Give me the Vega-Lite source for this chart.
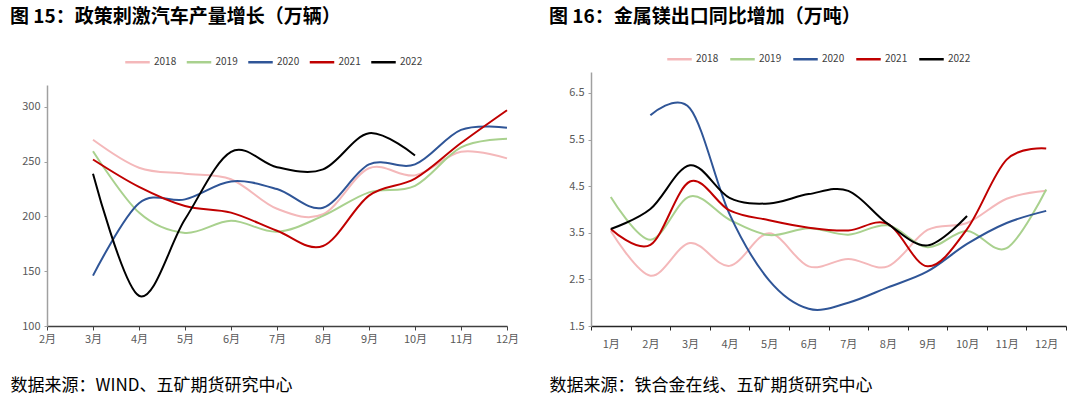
{
  "$schema": "https://vega.github.io/schema/vega-lite/v6.json",
  "background": "white",
  "padding": {"left": 10, "top": 7, "right": 2, "bottom": 3},
  "bounds": "flush",
  "spacing": 84,
  "config": {
    "font": "Noto Sans CJK SC",
    "view": {"stroke": null},
    "axis": {"labelFont": "Noto Sans CJK SC", "labelFontSize": 11, "labelColor": "#595959", "grid": false, "titleFont": "Noto Sans CJK SC"},
    "legend": {"labelFont": "Noto Sans CJK SC", "labelFontSize": 10, "labelColor": "#404040", "symbolType": "stroke", "symbolSize": 600, "symbolStrokeWidth": 2.5, "labelOffset": 3, "title": null},
    "title": {"font": "Noto Sans CJK SC", "fontSize": 19, "fontWeight": "bold", "color": "#000000", "anchor": "start", "frame": "group"}
  },
  "resolve": {"scale": {"x": "independent", "y": "independent", "color": "independent"}, "legend": {"color": "independent"}},
  "datasets": {
    "car": [
      {"m": "3月", "year": "2018", "v": 270}, {"m": "4月", "year": "2018", "v": 244.5}, {"m": "5月", "year": "2018", "v": 239}, {"m": "6月", "year": "2018", "v": 234}, {"m": "7月", "year": "2018", "v": 207}, {"m": "8月", "year": "2018", "v": 202}, {"m": "9月", "year": "2018", "v": 244}, {"m": "10月", "year": "2018", "v": 237.5}, {"m": "11月", "year": "2018", "v": 259}, {"m": "12月", "year": "2018", "v": 253},
      {"m": "3月", "year": "2019", "v": 259.6}, {"m": "4月", "year": "2019", "v": 203.5}, {"m": "5月", "year": "2019", "v": 185}, {"m": "6月", "year": "2019", "v": 196}, {"m": "7月", "year": "2019", "v": 186}, {"m": "8月", "year": "2019", "v": 200.5}, {"m": "9月", "year": "2019", "v": 222}, {"m": "10月", "year": "2019", "v": 228}, {"m": "11月", "year": "2019", "v": 263}, {"m": "12月", "year": "2019", "v": 271},
      {"m": "3月", "year": "2020", "v": 146}, {"m": "4月", "year": "2020", "v": 212}, {"m": "5月", "year": "2020", "v": 215.6}, {"m": "6月", "year": "2020", "v": 232}, {"m": "7月", "year": "2020", "v": 225}, {"m": "8月", "year": "2020", "v": 208}, {"m": "9月", "year": "2020", "v": 247.5}, {"m": "10月", "year": "2020", "v": 247.5}, {"m": "11月", "year": "2020", "v": 279}, {"m": "12月", "year": "2020", "v": 281},
      {"m": "3月", "year": "2021", "v": 252}, {"m": "4月", "year": "2021", "v": 227}, {"m": "5月", "year": "2021", "v": 209.5}, {"m": "6月", "year": "2021", "v": 203.5}, {"m": "7月", "year": "2021", "v": 187}, {"m": "8月", "year": "2021", "v": 173}, {"m": "9月", "year": "2021", "v": 219}, {"m": "10月", "year": "2021", "v": 234.5}, {"m": "11月", "year": "2021", "v": 267}, {"m": "12月", "year": "2021", "v": 297},
      {"m": "3月", "year": "2022", "v": 239}, {"m": "4月", "year": "2022", "v": 127.6}, {"m": "5月", "year": "2022", "v": 197.4}, {"m": "6月", "year": "2022", "v": 259}, {"m": "7月", "year": "2022", "v": 245}, {"m": "8月", "year": "2022", "v": 243}, {"m": "9月", "year": "2022", "v": 276}, {"m": "10月", "year": "2022", "v": 255.7}
    ],
    "mg": [
      {"m": "1月", "year": "2018", "v": 3.54}, {"m": "2月", "year": "2018", "v": 2.58}, {"m": "3月", "year": "2018", "v": 3.28}, {"m": "4月", "year": "2018", "v": 2.79}, {"m": "5月", "year": "2018", "v": 3.49}, {"m": "6月", "year": "2018", "v": 2.78}, {"m": "7月", "year": "2018", "v": 2.94}, {"m": "8月", "year": "2018", "v": 2.78}, {"m": "9月", "year": "2018", "v": 3.56}, {"m": "10月", "year": "2018", "v": 3.71}, {"m": "11月", "year": "2018", "v": 4.23}, {"m": "12月", "year": "2018", "v": 4.4},
      {"m": "1月", "year": "2019", "v": 4.27}, {"m": "2月", "year": "2019", "v": 3.35}, {"m": "3月", "year": "2019", "v": 4.28}, {"m": "4月", "year": "2019", "v": 3.78}, {"m": "5月", "year": "2019", "v": 3.45}, {"m": "6月", "year": "2019", "v": 3.6}, {"m": "7月", "year": "2019", "v": 3.46}, {"m": "8月", "year": "2019", "v": 3.66}, {"m": "9月", "year": "2019", "v": 3.19}, {"m": "10月", "year": "2019", "v": 3.54}, {"m": "11月", "year": "2019", "v": 3.17}, {"m": "12月", "year": "2019", "v": 4.43},
      {"m": "2月", "year": "2020", "v": 6.02}, {"m": "3月", "year": "2020", "v": 6.17}, {"m": "4月", "year": "2020", "v": 3.9}, {"m": "5月", "year": "2020", "v": 2.48}, {"m": "6月", "year": "2020", "v": 1.87}, {"m": "7月", "year": "2020", "v": 2.0}, {"m": "8月", "year": "2020", "v": 2.33}, {"m": "9月", "year": "2020", "v": 2.67}, {"m": "10月", "year": "2020", "v": 3.26}, {"m": "11月", "year": "2020", "v": 3.71}, {"m": "12月", "year": "2020", "v": 3.97},
      {"m": "1月", "year": "2021", "v": 3.58}, {"m": "2月", "year": "2021", "v": 3.24}, {"m": "3月", "year": "2021", "v": 4.6}, {"m": "4月", "year": "2021", "v": 3.98}, {"m": "5月", "year": "2021", "v": 3.77}, {"m": "6月", "year": "2021", "v": 3.61}, {"m": "7月", "year": "2021", "v": 3.55}, {"m": "8月", "year": "2021", "v": 3.69}, {"m": "9月", "year": "2021", "v": 2.78}, {"m": "10月", "year": "2021", "v": 3.58}, {"m": "11月", "year": "2021", "v": 5.07}, {"m": "12月", "year": "2021", "v": 5.31},
      {"m": "1月", "year": "2022", "v": 3.58}, {"m": "2月", "year": "2022", "v": 4.01}, {"m": "3月", "year": "2022", "v": 4.95}, {"m": "4月", "year": "2022", "v": 4.25}, {"m": "5月", "year": "2022", "v": 4.13}, {"m": "6月", "year": "2022", "v": 4.33}, {"m": "7月", "year": "2022", "v": 4.4}, {"m": "8月", "year": "2022", "v": 3.69}, {"m": "9月", "year": "2022", "v": 3.23}, {"m": "10月", "year": "2022", "v": 3.86}
    ]
  },
  "hconcat": [
    {
      "title": {"text": "图 15：政策刺激汽车产量增长（万辆）", "dx": -37, "offset": 22},
      "width": 460,
      "height": 254,
      "data": {"name": "car"},
      "mark": {"type": "line", "interpolate": "cardinal", "strokeWidth": 2},
      "encoding": {
        "x": {"field": "m", "type": "ordinal", "sort": null,
          "scale": {"type": "point", "padding": 0, "domain": ["2月", "3月", "4月", "5月", "6月", "7月", "8月", "9月", "10月", "11月", "12月"]},
          "axis": {"labelAngle": 0, "domainColor": "#404040", "domainWidth": 1.5, "tickColor": "#404040", "tickSize": 4, "labelPadding": 3,
            "title": "数据来源：WIND、五矿期货研究中心", "titleFontSize": 17, "titleFontWeight": "normal", "titleColor": "#000000", "titleAnchor": "start", "titleAlign": "left", "titleBaseline": "middle", "titleX": -37, "titleY": 59}},
        "y": {"field": "v", "type": "quantitative",
          "scale": {"domain": [100, 320], "range": [254, 13], "nice": false, "zero": false},
          "axis": {"values": [100, 150, 200, 250, 300], "title": null, "domainColor": "#a0a0a0", "domainWidth": 1.5, "tickColor": "#a0a0a0", "tickSize": 3, "labelPadding": 4}},
        "color": {"field": "year", "type": "nominal",
          "scale": {"domain": ["2018", "2019", "2020", "2021", "2022"], "range": ["#F4B8BA", "#A9D18E", "#2F5597", "#C00000", "#000000"]},
          "legend": {"orient": "none", "direction": "horizontal", "legendX": 77, "legendY": -23.5, "columnPadding": 4.5}}
      }
    },
    {
      "title": {"text": "图 16：金属镁出口同比增加（万吨）", "dx": -42, "offset": 19},
      "width": 475,
      "height": 254,
      "data": {"name": "mg"},
      "mark": {"type": "line", "interpolate": "cardinal", "strokeWidth": 2},
      "encoding": {
        "x": {"field": "m", "type": "ordinal", "sort": null,
          "scale": {"type": "band", "paddingInner": 0, "paddingOuter": 0, "domain": ["1月", "2月", "3月", "4月", "5月", "6月", "7月", "8月", "9月", "10月", "11月", "12月"]},
          "axis": {"labelAngle": 0, "tickBand": "extent", "domainColor": "#262626", "domainWidth": 1.5, "tickColor": "#262626", "tickSize": 4, "labelPadding": 8,
            "title": "数据来源：铁合金在线、五矿期货研究中心", "titleFontSize": 17, "titleFontWeight": "normal", "titleColor": "#000000", "titleAnchor": "start", "titleAlign": "left", "titleBaseline": "middle", "titleX": -42, "titleY": 59}},
        "y": {"field": "v", "type": "quantitative",
          "scale": {"domain": [1.5, 6.95], "nice": false, "zero": false},
          "axis": {"values": [1.5, 2.5, 3.5, 4.5, 5.5, 6.5], "format": ".1f", "title": null, "domainColor": "#a0a0a0", "domainWidth": 1.5, "tickColor": "#a0a0a0", "tickSize": 3, "labelPadding": 4}},
        "color": {"field": "year", "type": "nominal",
          "scale": {"domain": ["2018", "2019", "2020", "2021", "2022"], "range": ["#F4B8BA", "#A9D18E", "#2F5597", "#C00000", "#000000"]},
          "legend": {"orient": "none", "direction": "horizontal", "legendX": 75, "legendY": -26.5, "columnPadding": 6}}
      }
    }
  ]
}
